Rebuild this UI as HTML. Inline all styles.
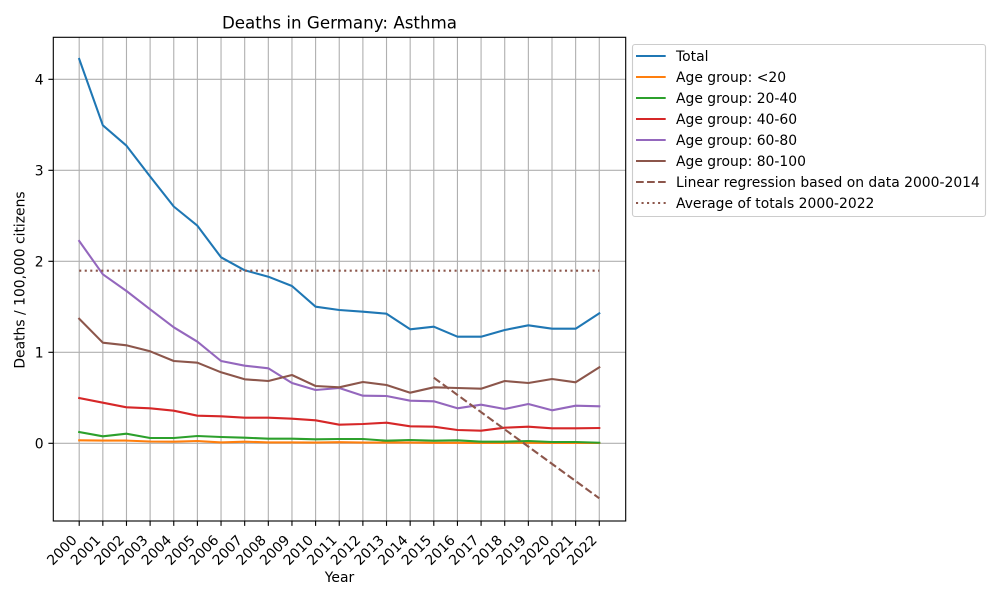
<!DOCTYPE html>
<html><head><meta charset="utf-8"><style>
html,body{margin:0;padding:0;background:#fff;}
svg{display:block;font-family:"DejaVu Sans","Liberation Sans",sans-serif;}
</style></head><body>
<svg width="1000" height="600" viewBox="0 0 1000 600" xmlns="http://www.w3.org/2000/svg">
<rect x="0" y="0" width="1000" height="600" fill="#fff"/>
<!-- grid -->
<g stroke="#b0b0b0" stroke-width="1.11" fill="none">
<path d="M79.2 37.3V521M102.84 37.3V521M126.48 37.3V521M150.12 37.3V521M173.76 37.3V521M197.4 37.3V521M221.04 37.3V521M244.68 37.3V521M268.32 37.3V521M291.96 37.3V521M315.6 37.3V521M339.24 37.3V521M362.88 37.3V521M386.52 37.3V521M410.16 37.3V521M433.8 37.3V521M457.44 37.3V521M481.08 37.3V521M504.72 37.3V521M528.36 37.3V521M552 37.3V521M575.64 37.3V521M599.28 37.3V521"/>
<path d="M53.3 443.3H625.7M53.3 352.3H625.7M53.3 261.3H625.7M53.3 170.3H625.7M53.3 79.3H625.7"/>
</g>
<!-- series -->
<g fill="none" stroke-width="2.08" stroke-linejoin="round" stroke-linecap="square">
<polyline stroke="#1f77b4" points="79.2,59 102.84,125.3 126.48,145.7 150.12,176.5 173.76,206.5 197.4,225.7 221.04,257.3 244.68,270.3 268.32,276.7 291.96,286 315.6,306.7 339.24,310 362.88,311.7 386.52,313.7 410.16,329.3 433.8,326.7 457.44,336.7 481.08,336.7 504.72,330 528.36,325.3 552,328.7 575.64,328.7 599.28,313.3"/>
<polyline stroke="#ff7f0e" points="79.2,440.3 102.84,440.6 126.48,440.6 150.12,441.5 173.76,441.7 197.4,441 221.04,442.4 244.68,441.7 268.32,442.4 291.96,442.4 315.6,442.6 339.24,442.2 362.88,442.6 386.52,442.6 410.16,442.6 433.8,442.8 457.44,442.8 481.08,442.9 504.72,442.9 528.36,442.8 552,443 575.64,443 599.28,443"/>
<polyline stroke="#2ca02c" points="79.2,432 102.84,436.3 126.48,433.7 150.12,438 173.76,438 197.4,436 221.04,437 244.68,437.7 268.32,438.7 291.96,438.7 315.6,439.3 339.24,439 362.88,439 386.52,440.7 410.16,440 433.8,440.7 457.44,440.3 481.08,441.7 504.72,441.7 528.36,441 552,442 575.64,442 599.28,442.7"/>
<polyline stroke="#d62728" points="79.2,398 102.84,402.7 126.48,407.3 150.12,408.3 173.76,410.7 197.4,415.7 221.04,416.3 244.68,417.7 268.32,417.7 291.96,418.7 315.6,420.3 339.24,424.7 362.88,424 386.52,422.7 410.16,426.3 433.8,426.7 457.44,430 481.08,430.7 504.72,427.7 528.36,426.7 552,428.3 575.64,428.3 599.28,428"/>
<polyline stroke="#9467bd" points="79.2,241 102.84,274.3 126.48,291 150.12,309.3 173.76,327.3 197.4,341.7 221.04,361 244.68,365.7 268.32,368.3 291.96,383 315.6,390 339.24,388 362.88,395.7 386.52,396 410.16,400.7 433.8,401.3 457.44,408.3 481.08,404.7 504.72,409 528.36,404 552,410.3 575.64,405.7 599.28,406.3"/>
<polyline stroke="#8c564b" points="79.2,318.7 102.84,342.7 126.48,345.3 150.12,351.3 173.76,361 197.4,362.7 221.04,372.3 244.68,379.3 268.32,381 291.96,375 315.6,386 339.24,387.3 362.88,382 386.52,385 410.16,392.7 433.8,387.3 457.44,388 481.08,388.7 504.72,381 528.36,383 552,379 575.64,382.3 599.28,367.3"/>
<line x1="433.8" y1="377.7" x2="599.28" y2="498.3" stroke="#8c564b" stroke-dasharray="7.71 3.33" stroke-linecap="butt"/>
<line x1="79.2" y1="270.7" x2="599.28" y2="270.7" stroke="#8c564b" stroke-dasharray="2.08 3.44" stroke-linecap="butt"/>
</g>
<!-- spines -->
<rect x="53.3" y="37.3" width="572.4" height="483.7" fill="none" stroke="#000" stroke-width="1.11"/>
<!-- ticks -->
<g stroke="#000" stroke-width="1.11">
<path d="M79.2 521v4.9M102.84 521v4.9M126.48 521v4.9M150.12 521v4.9M173.76 521v4.9M197.4 521v4.9M221.04 521v4.9M244.68 521v4.9M268.32 521v4.9M291.96 521v4.9M315.6 521v4.9M339.24 521v4.9M362.88 521v4.9M386.52 521v4.9M410.16 521v4.9M433.8 521v4.9M457.44 521v4.9M481.08 521v4.9M504.72 521v4.9M528.36 521v4.9M552 521v4.9M575.64 521v4.9M599.28 521v4.9"/>
<path d="M53.3 443.3h-4.9M53.3 352.3h-4.9M53.3 261.3h-4.9M53.3 170.3h-4.9M53.3 79.3h-4.9"/>
</g>
<g font-size="13.9" fill="#000" text-anchor="end">
<text x="43.6" y="448.3">0</text>
<text x="43.6" y="357.3">1</text>
<text x="43.6" y="266.3">2</text>
<text x="43.6" y="175.3">3</text>
<text x="43.6" y="84.3">4</text>
</g>
<g font-size="13.9" fill="#000" text-anchor="end">
<text transform="translate(77.7,541) rotate(-45)">2000</text>
<text transform="translate(101.34,541) rotate(-45)">2001</text>
<text transform="translate(124.98,541) rotate(-45)">2002</text>
<text transform="translate(148.62,541) rotate(-45)">2003</text>
<text transform="translate(172.26,541) rotate(-45)">2004</text>
<text transform="translate(195.9,541) rotate(-45)">2005</text>
<text transform="translate(219.54,541) rotate(-45)">2006</text>
<text transform="translate(243.18,541) rotate(-45)">2007</text>
<text transform="translate(266.82,541) rotate(-45)">2008</text>
<text transform="translate(290.46,541) rotate(-45)">2009</text>
<text transform="translate(314.1,541) rotate(-45)">2010</text>
<text transform="translate(337.74,541) rotate(-45)">2011</text>
<text transform="translate(361.38,541) rotate(-45)">2012</text>
<text transform="translate(385.02,541) rotate(-45)">2013</text>
<text transform="translate(408.66,541) rotate(-45)">2014</text>
<text transform="translate(432.3,541) rotate(-45)">2015</text>
<text transform="translate(455.94,541) rotate(-45)">2016</text>
<text transform="translate(479.58,541) rotate(-45)">2017</text>
<text transform="translate(503.22,541) rotate(-45)">2018</text>
<text transform="translate(526.86,541) rotate(-45)">2019</text>
<text transform="translate(550.5,541) rotate(-45)">2020</text>
<text transform="translate(574.14,541) rotate(-45)">2021</text>
<text transform="translate(597.78,541) rotate(-45)">2022</text>
</g>
<text x="339.5" y="582" font-size="13.9" text-anchor="middle">Year</text>
<text transform="translate(24.7,280) rotate(-90)" font-size="13.9" text-anchor="middle">Deaths / 100,000 citizens</text>
<text x="339.5" y="28.3" font-size="16.7" text-anchor="middle">Deaths in Germany: Asthma</text>
<!-- legend -->
<rect x="632.5" y="44.5" width="353" height="172" rx="2.5" ry="2.5" fill="#fff" fill-opacity="0.8" stroke="#cccccc" stroke-width="1.11"/>
<g fill="none" stroke-width="2.08">
<line x1="636" y1="56" x2="665.7" y2="56" stroke="#1f77b4"/>
<line x1="636" y1="77" x2="665.7" y2="77" stroke="#ff7f0e"/>
<line x1="636" y1="98" x2="665.7" y2="98" stroke="#2ca02c"/>
<line x1="636" y1="119" x2="665.7" y2="119" stroke="#d62728"/>
<line x1="636" y1="140" x2="665.7" y2="140" stroke="#9467bd"/>
<line x1="636" y1="161" x2="665.7" y2="161" stroke="#8c564b"/>
<line x1="636" y1="182" x2="665.7" y2="182" stroke="#8c564b" stroke-dasharray="7.71 3.33"/>
<line x1="636" y1="203" x2="665.7" y2="203" stroke="#8c564b" stroke-dasharray="2.08 3.44"/>
</g>
<g font-size="13.9" fill="#000">
<text x="676" y="61.2">Total</text>
<text x="676" y="82.2">Age group: &lt;20</text>
<text x="676" y="103.2">Age group: 20-40</text>
<text x="676" y="124.2">Age group: 40-60</text>
<text x="676" y="145.2">Age group: 60-80</text>
<text x="676" y="166.2">Age group: 80-100</text>
<text x="676" y="187.2">Linear regression based on data 2000-2014</text>
<text x="676" y="208.2">Average of totals 2000-2022</text>
</g>
</svg>
</body></html>
